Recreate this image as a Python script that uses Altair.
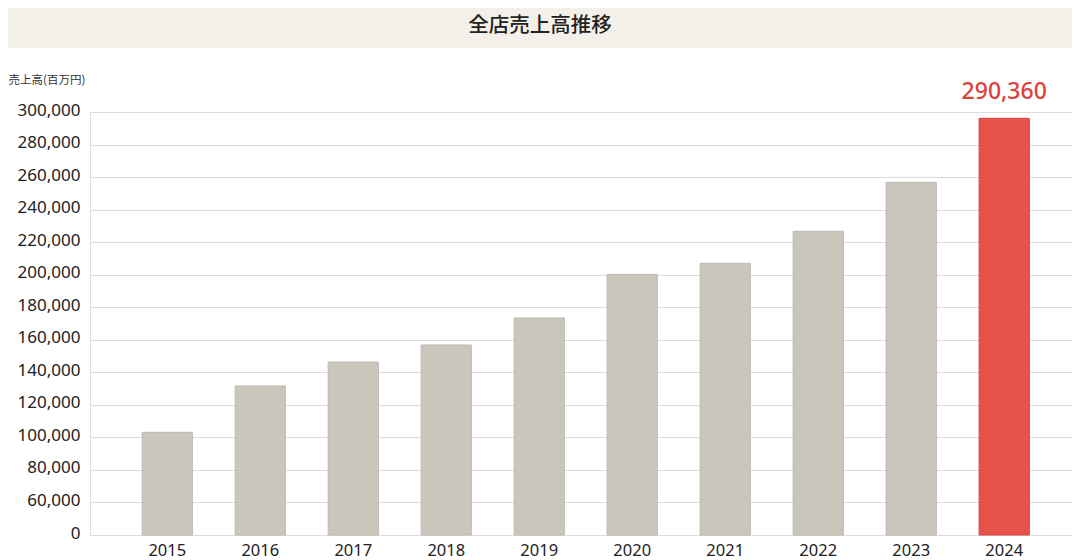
import altair as alt
import pandas as pd

# ---- data ----
years = ["2015", "2016", "2017", "2018", "2019", "2020", "2021", "2022", "2023", "2024"]
sales = [103100, 131600, 146300, 156800, 173400, 200200, 207000, 226700, 256800, 296100]
highlight = [False, False, False, False, False, False, False, False, False, True]
bar_labels = ["", "", "", "", "", "", "", "", "", "290,360"]

chart_title = "全店売上高推移"
y_title = "売上高(百万円)"
axis_base = 40000          # the axis' "0" sits at this level (broken axis)
tick_values = [40000, 60000, 80000, 100000, 120000, 140000, 160000, 180000,
               200000, 220000, 240000, 260000, 280000, 300000]
tick_labels = ["0", "60,000", "80,000", "100,000", "120,000", "140,000", "160,000",
               "180,000", "200,000", "220,000", "240,000", "260,000", "280,000", "300,000"]

df = pd.DataFrame({"year": years, "sales": sales, "hl": highlight, "label": bar_labels})
banner_df = pd.DataFrame({"t": [chart_title]})

W, H = 982, 423
PAD_L, PAD_T = 82, 104
CJK = "Noto Sans CJK JP"
NUM = "Noto Sans"

label_expr = " : ".join(
    f"datum.value == {v} ? '{t}'" for v, t in zip(tick_values, tick_labels)
) + " : ''"

x_scale = alt.Scale(paddingInner=0.46, paddingOuter=0.51, align=0.55)
y_scale = alt.Scale(domain=[axis_base, 300000], nice=False, zero=False)

x_axis = alt.Axis(title=None, domain=False, ticks=False, labelAngle=0,
                  labelFontSize=16.5, labelColor="#222222", labelPadding=7,
                  labelFont=NUM, grid=False, labelOverlap=False)
y_axis = alt.Axis(
    values=tick_values, labelExpr=label_expr, domain=False, ticks=False,
    grid=True, gridColor="#dcdcdc", gridWidth=1.2,
    labelFontSize=17, labelColor="#222222", labelPadding=10, labelOffset=-2,
    labelFont=NUM, labelOverlap=False, labelBound=False,
    title=y_title, titleAngle=0, titleAlign="left", titleBaseline="middle",
    titleX=-PAD_L, titleY=-32, titleFontSize=11.5, titleFontWeight="normal",
    titleColor="#333333", titleFont=CJK,
)

bars = alt.Chart(df).mark_bar(strokeWidth=1).encode(
    x=alt.X("year:N", sort=years, scale=x_scale, axis=x_axis),
    y=alt.Y("sales:Q", scale=y_scale, axis=y_axis),
    y2=alt.datum(axis_base),
    color=alt.Color("hl:N", scale=alt.Scale(domain=[False, True], range=["#cac6bc", "#e5534b"]),
                    legend=None),
    stroke=alt.Stroke("hl:N", scale=alt.Scale(domain=[False, True], range=["#bfbab0", "#d9443c"]),
                      legend=None),
)

value_label = alt.Chart(df).transform_filter("datum.label != ''").mark_text(
    dy=-26, baseline="middle", align="center", fontSize=23, fontWeight=500,
    color="#e0403a", font=NUM,
).encode(
    x=alt.X("year:N", sort=years, scale=x_scale, axis=x_axis),
    y=alt.Y("sales:Q", scale=y_scale, axis=y_axis),
    text="label:N",
)

banner = alt.Chart(banner_df).mark_rect(color="#f3f0e9").encode(
    x=alt.value(-PAD_L), x2=alt.value(W), y=alt.value(-PAD_T), y2=alt.value(-64),
)
banner_text = alt.Chart(banner_df).mark_text(
    fontSize=20.5, fontWeight=500, color="#222222", font=CJK,
    align="center", baseline="middle",
).encode(
    x=alt.value(540 - 90), y=alt.value(26 - 112), text="t:N",
)

chart = alt.layer(bars, value_label, banner, banner_text).properties(
    width=W, height=H,
    padding={"left": PAD_L, "top": PAD_T, "right": 0, "bottom": 25},
    autosize="none",
).configure_view(stroke="#d4d4d4", strokeWidth=1.2).configure(background="white")

chart.save("out.html", embed_options={"renderer": "svg", "actions": False})
